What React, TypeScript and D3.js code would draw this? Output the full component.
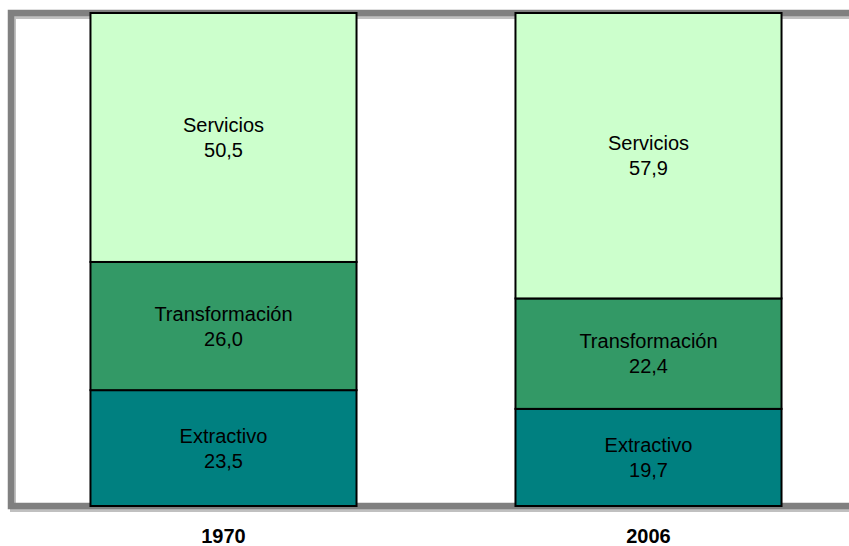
import React, { useEffect, useRef } from "react";
import * as d3 from "d3";

// datos: composición del empleo por sector (%)
const YEARS = ["1970", "2006"];
const SECTORS = ["Extractivo", "Transformación", "Servicios"];
const EXTRACTIVO = [23.5, 19.7];
const TRANSFORMACION = [26.0, 22.4];
const SERVICIOS = [50.5, 57.9];

const COLORS = ["#008080", "#339966", "#ccffcc"];
const W = 849;
const H = 546;
const FONT = "Arial, 'Liberation Sans', sans-serif";

export default function App() {
  const svgRef = useRef<SVGSVGElement | null>(null);

  useEffect(() => {
    document.body.style.margin = "0";
    const svg = d3.select(svgRef.current);
    svg.selectAll("*").remove();

    const rows = YEARS.map((y, i) => ({
      year: y,
      Extractivo: EXTRACTIVO[i],
      "Transformación": TRANSFORMACION[i],
      Servicios: SERVICIOS[i],
    }));

    const m = { top: 13, left: 11, bottom: 506, right: 861 };

    const x = d3
      .scaleBand()
      .domain(YEARS)
      .range([m.left, m.right])
      .paddingInner(0.374)
      .paddingOuter(0.187);
    const y = d3.scaleLinear().domain([0, 100]).range([m.bottom, m.top]);

    const series = d3.stack<any>().keys(SECTORS)(rows);

    // marco del área de trazado (sombra + borde gris)
    const frame = (dx: number, dy: number) =>
      `M${m.right + dx},${m.top + dy}H${m.left + dx}V${m.bottom + dy}H${m.right + dx}`;
    svg
      .append("path")
      .attr("d", frame(2, 3))
      .attr("fill", "none")
      .attr("stroke", "#c0c0c0")
      .attr("stroke-width", 6);
    svg
      .append("path")
      .attr("d", frame(0, 0))
      .attr("fill", "none")
      .attr("stroke", "#808080")
      .attr("stroke-width", 6.5);

    // barras apiladas
    const g = svg.append("g");
    series.forEach((s, si) => {
      g.selectAll(null)
        .data(s)
        .join("rect")
        .attr("x", (d: any) => x(d.data.year)!)
        .attr("y", (d) => y(d[1]))
        .attr("width", x.bandwidth())
        .attr("height", (d) => y(d[0]) - y(d[1]))
        .attr("fill", COLORS[si])
        .attr("stroke", "#000")
        .attr("stroke-width", 2);
    });

    // etiquetas dentro de cada segmento
    series.forEach((s) => {
      s.forEach((d: any) => {
        const cx = x(d.data.year)! + x.bandwidth() / 2;
        const cy = (y(d[0]) + y(d[1])) / 2;
        const t = g
          .append("text")
          .attr("text-anchor", "middle")
          .attr("font-family", FONT)
          .attr("font-size", 20)
          .attr("fill", "#000");
        t.append("tspan")
          .attr("x", cx)
          .attr("y", cy - 12.5)
          .attr("dominant-baseline", "central")
          .text(s.key);
        t.append("tspan")
          .attr("x", cx)
          .attr("y", cy + 12.5)
          .attr("dominant-baseline", "central")
          .text((d[1] - d[0]).toFixed(1).replace(".", ","));
      });
    });

    // eje de categorías
    svg
      .selectAll("text.year")
      .data(YEARS)
      .join("text")
      .attr("class", "year")
      .attr("x", (d) => x(d)! + x.bandwidth() / 2)
      .attr("y", 543)
      .attr("text-anchor", "middle")
      .attr("font-family", FONT)
      .attr("font-size", 20)
      .attr("font-weight", "bold")
      .attr("fill", "#000")
      .text((d) => d);
  }, []);

  return (
    <svg
      ref={svgRef}
      width={W}
      height={H}
      style={{ display: "block", background: "#fff" }}
    />
  );
}
